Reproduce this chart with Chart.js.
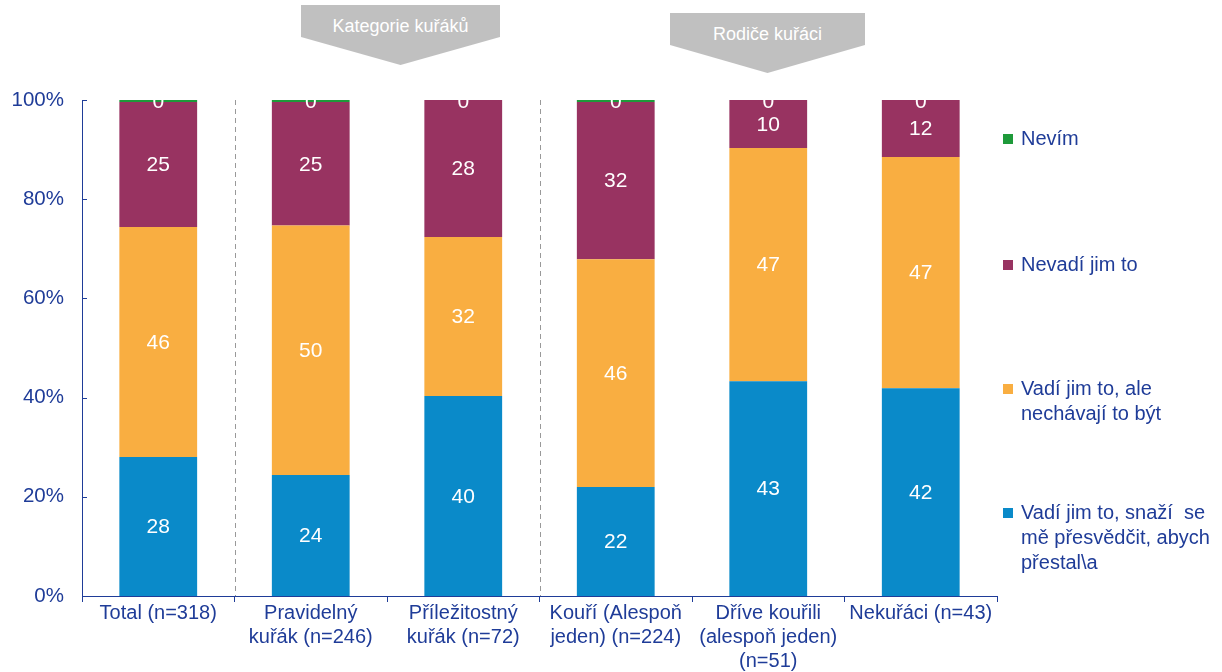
<!DOCTYPE html>
<html>
<head>
<meta charset="utf-8">
<script src="https://cdn.jsdelivr.net/npm/chart.js@4.4.1/dist/chart.umd.min.js"></script>
<style>
  body { margin: 0; background: #fff; font-family: "Liberation Sans", Arial, sans-serif; }
  #wrap { position: relative; width: 1222px; height: 672px; }
  #c { position: absolute; left: 0; top: 0; }
  .banner { position: absolute; height: 60px; background: #c0c0c0; color: #fff; font-size: 18px;
    text-align: center; line-height: 42px; clip-path: polygon(0 0, 100% 0, 100% 32px, 50% 60px, 0 32px); }
  .legend { position: absolute; left: 1003px; color: #1f3c98; font-size: 20px; line-height: 25px; }
  .legend i { position: absolute; left: 0; top: 8px; width: 10px; height: 10px; }
  .legend span { display: block; margin-left: 18px; white-space: nowrap; }
</style>
</head>
<body>
<div id="wrap">
  <canvas id="c" width="1222" height="672"></canvas>
  <div class="banner" style="left:301px;top:5px;width:199px;">Kategorie kuřáků</div>
  <div class="banner" style="left:670px;top:13px;width:195px;">Rodiče kuřáci</div>
  <div id="legend"></div>
</div>
<script>
const categories = [
  "Total (n=318)",
  ["Pravidelný", "kuřák (n=246)"],
  ["Příležitostný", "kuřák (n=72)"],
  ["Kouří (Alespoň", "jeden) (n=224)"],
  ["Dříve kouřili", "(alespoň jeden)", "(n=51)"],
  "Nekuřáci (n=43)"
];
const vadiSnazi = [28.0, 24.4, 40.3, 22.0, 43.3, 41.9];
const vadiAle = [46.4, 50.3, 32.1, 45.9, 47.0, 46.6];
const nevadi = [25.2, 24.9, 27.6, 31.7, 9.7, 11.5];
const nevim = [0.4, 0.4, 0, 0.4, 0, 0];
const yTicks = [0, 20, 40, 60, 80, 100];

const seriesNames = ["Vadí jim to, snaží  se|mě přesvědčit, abych|přestal\\a", "Vadí jim to, ale|nechávají to být", "Nevadí jim to", "Nevím"];
const colors = ["#0a8ac9", "#f9ae41", "#983361", "#1e9a3a"];
const legendY = [500, 376, 252, 126];

const axisColor = "#1f3c98";
const font = "Liberation Sans, Arial, sans-serif";

// legend as html, positions fitted to the picture
const legendEl = document.getElementById("legend");
seriesNames.forEach((name, i) => {
  const d = document.createElement("div");
  d.className = "legend";
  d.style.top = legendY[i] + "px";
  d.innerHTML = `<i style="background:${colors[i]}"></i>` + name.split("|").map((t) => `<span>${t.replace(/  /g, " &nbsp;")}</span>`).join("");
  legendEl.appendChild(d);
});

const extras = {
  id: "extras",
  afterDatasetsDraw(chart) {
    const { ctx, chartArea, scales } = chart;
    ctx.save();
    // dashed separators
    ctx.strokeStyle = "#999";
    ctx.lineWidth = 1;
    ctx.setLineDash([5, 4]);
    [0.5, 2.5].forEach((v) => {
      const x = Math.round(scales.x.getPixelForValue(v)) + 0.5;
      ctx.beginPath();
      ctx.moveTo(x, chartArea.top);
      ctx.lineTo(x, chartArea.bottom);
      ctx.stroke();
    });
    ctx.setLineDash([]);
    // inner y ticks
    ctx.strokeStyle = axisColor;
    yTicks.forEach((t) => {
      const y = Math.round(scales.y.getPixelForValue(t)) + 0.5;
      ctx.beginPath();
      ctx.moveTo(chartArea.left, y);
      ctx.lineTo(chartArea.left + 5, y);
      ctx.stroke();
    });
    // value labels
    ctx.fillStyle = "#fff";
    ctx.font = "21px " + font;
    ctx.textAlign = "center";
    ctx.textBaseline = "middle";
    chart.data.datasets.forEach((ds, di) => {
      chart.getDatasetMeta(di).data.forEach((bar, i) => {
        const label = String(Math.round(ds.data[i]));
        if (di === 3) {
          ctx.fillText(label, bar.x, bar.y + 2);
        } else {
          ctx.fillText(label, bar.x, (bar.y + bar.base) / 2 + 1);
        }
      });
    });
    ctx.restore();
  }
};

new Chart(document.getElementById("c").getContext("2d"), {
  type: "bar",
  data: {
    labels: categories,
    datasets: [vadiSnazi, vadiAle, nevadi, nevim].map((d, i) => ({
      label: seriesNames[i].replace(/\|/g, " "),
      data: d,
      backgroundColor: colors[i],
      borderWidth: 0,
      categoryPercentage: 1,
      barPercentage: 0.51,
    })),
  },
  options: {
    responsive: false,
    animation: false,
    layout: { padding: { top: 100, right: 225, left: 0, bottom: 0 } },
    plugins: { legend: { display: false }, tooltip: { enabled: false } },
    scales: {
      x: {
        stacked: true,
        offset: true,
        afterFit: (s) => { s.height = 76; },
        border: { color: axisColor, width: 1 },
        grid: { drawOnChartArea: false, offset: true, tickLength: 6, color: axisColor },
        ticks: { color: axisColor, font: { family: font, size: 20, lineHeight: 1.18 }, padding: 0, maxRotation: 0, autoSkip: false },
      },
      y: {
        stacked: true,
        min: 0,
        max: 100,
        afterFit: (s) => { s.width = 82; },
        afterBuildTicks: (s) => { s.ticks = yTicks.map((v) => ({ value: v })); },
        border: { color: axisColor, width: 1 },
        grid: { display: false },
        ticks: { color: axisColor, padding: 10, font: { family: font, size: 20.5 }, callback: (v) => v + "%" },
      },
    },
  },
  plugins: [extras],
});
</script>
</body>
</html>
